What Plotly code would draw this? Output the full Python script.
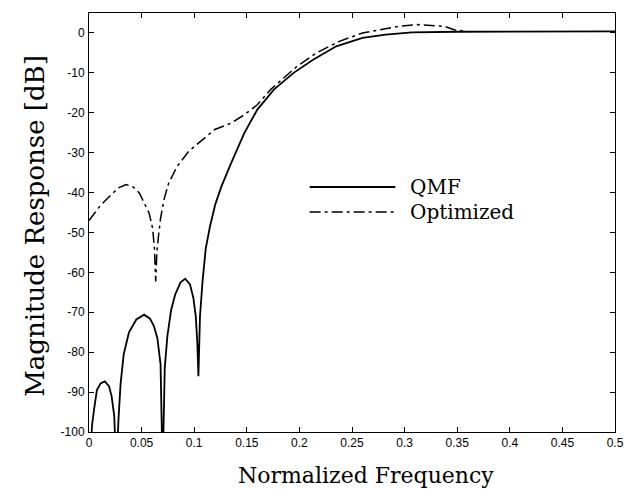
import plotly.graph_objects as go

# QMF (solid) response
qmf_freq = [0.0, 0.003, 0.005, 0.0075, 0.011, 0.015, 0.019, 0.0215, 0.024, 0.026,
            0.028, 0.030, 0.033, 0.038, 0.045, 0.0524, 0.058, 0.0618, 0.065, 0.068,
            0.070, 0.072, 0.0745, 0.078, 0.082, 0.087, 0.0915, 0.096, 0.0993, 0.1015,
            0.103, 0.104, 0.1055, 0.108, 0.111, 0.115, 0.120, 0.1258, 0.1351, 0.1476,
            0.160, 0.1757, 0.1945, 0.213, 0.235, 0.260, 0.282, 0.307, 0.35, 0.4,
            0.45, 0.5]
qmf_db = [-110, -98, -94, -89.5, -87.8, -87.3, -88.5, -91, -96, -110,
          -97, -88, -80.5, -75, -71.8, -70.6, -71.6, -73.5, -76.5, -83,
          -110, -84, -76, -69.5, -65.5, -62.5, -61.6, -63, -66.5, -71,
          -78, -86, -71, -62, -54, -48.5, -43, -38.5, -32.6, -25.1,
          -19.2, -14.2, -10.0, -6.7, -3.35, -1.25, -0.4, 0.15, 0.3, 0.3,
          0.35, 0.4]

# Optimized (dash-dot) response
opt_freq = [0.0, 0.0103, 0.0197, 0.028, 0.0353, 0.042, 0.0478, 0.0525, 0.0571, 0.0605,
            0.0622, 0.0634, 0.0645, 0.066, 0.068, 0.0715, 0.0758, 0.0836, 0.0946, 0.104,
            0.1196, 0.135, 0.1477, 0.160, 0.1726, 0.185, 0.1976, 0.2163, 0.238, 0.26,
            0.279, 0.295, 0.313, 0.338, 0.347, 0.36]
opt_db = [-47, -43.4, -40.9, -38.8, -38.0, -38.6, -40.1, -42.5, -45.1, -49,
          -54, -62.3, -55, -51, -46.5, -41.5, -37.6, -33.5, -29.7, -27.6,
          -24.2, -22.6, -20.5, -18, -14.2, -11.3, -8.4, -5.0, -2.1, 0,
          1.0, 1.7, 2.1, 1.65, 0.8, 0.35]

x_ticks = [0, 0.05, 0.1, 0.15, 0.2, 0.25, 0.3, 0.35, 0.4, 0.45, 0.5]
x_labels = ["0", "0.05", "0.1", "0.15", "0.2", "0.25", "0.3", "0.35", "0.4", "0.45", "0.5"]
y_ticks = [0, -10, -20, -30, -40, -50, -60, -70, -80, -90, -100]
y_labels = ["0", "-10", "-20", "-30", "-40", "-50", "-60", "-70", "-80", "-90", "-100"]

names = ["QMF", "Optimized"]
serif = "DejaVu Serif"
dashdot = "11px,4px,3px,4px"

fig = go.Figure()

fig.add_trace(go.Scatter(
    x=qmf_freq, y=qmf_db, mode="lines", name=names[0],
    line=dict(color="black", width=1.8),
))
fig.add_trace(go.Scatter(
    x=opt_freq, y=opt_db, mode="lines", name=names[1],
    line=dict(color="black", width=1.5, dash=dashdot),
))

axis_style = dict(
    showline=True, linecolor="black", linewidth=1, mirror="ticks",
    ticks="inside", ticklen=5, tickcolor="black",
    showgrid=False, zeroline=False,
    tickfont=dict(family="Liberation Sans", size=12, color="black"),
)

fig.update_xaxes(range=[0, 0.5], tickvals=x_ticks, ticktext=x_labels, **axis_style)
fig.update_yaxes(range=[-100, 5], tickvals=y_ticks, ticktext=y_labels,
                 ticklabelstandoff=1, **axis_style)

# hand-drawn legend, like the original
fig.add_shape(type="line", xref="paper", yref="paper", x0=0.4195, x1=0.5824, y0=0.5847, y1=0.5847,
              line=dict(color="black", width=1.8))
fig.add_shape(type="line", xref="paper", yref="paper", x0=0.4195, x1=0.5824, y0=0.525, y1=0.525,
              line=dict(color="black", width=1.5, dash=dashdot))
for txt, yy in zip(names, [0.5847, 0.525]):
    fig.add_annotation(text=txt, xref="paper", yref="paper", x=0.6067, y=yy,
                       xanchor="left", yanchor="middle", showarrow=False,
                       font=dict(family=serif, size=20, color="black"))

# axis titles
fig.add_annotation(text="Normalized Frequency", xref="paper", yref="paper", x=0.527, y=-0.105,
                   xanchor="center", yanchor="middle", showarrow=False,
                   font=dict(family=serif, size=22, color="black"))
fig.add_annotation(text="Magnitude Response [dB]", xref="paper", yref="paper", x=-0.103, y=0.4916,
                   xanchor="center", yanchor="middle", showarrow=False, textangle=-90,
                   font=dict(family=serif, size=26, color="black"))

fig.update_layout(
    width=636, height=490,
    margin=dict(l=89, r=13, t=13, b=58),
    paper_bgcolor="white", plot_bgcolor="white",
    showlegend=False,
)

fig.write_html("out.html",
               config={"displayModeBar": False, "responsive": False},
               post_script="document.body.style.margin='0';document.body.style.overflow='hidden';")
